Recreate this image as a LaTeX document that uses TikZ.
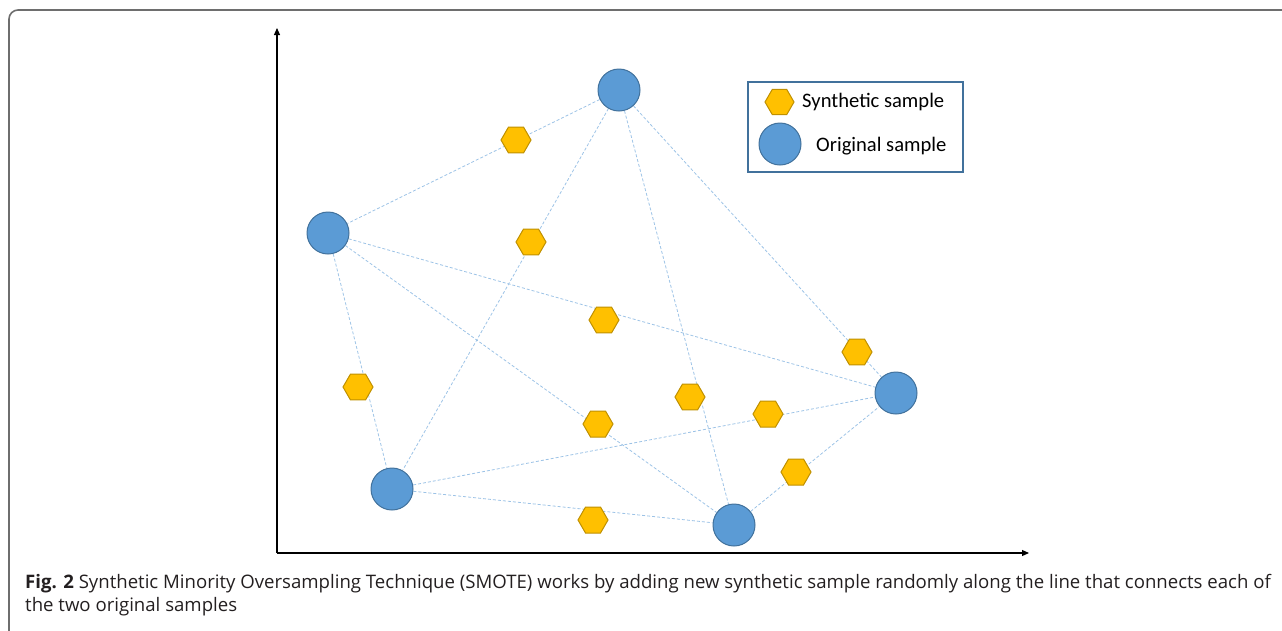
\documentclass[tikz,border=0pt]{standalone}
\usepackage{fontspec}
\setmainfont{Open Sans}
\newfontfamily\legendfont{Carlito}
\usetikzlibrary{shapes.geometric,arrows.meta,backgrounds}
\definecolor{origfill}{HTML}{5B9BD5}
\definecolor{origline}{HTML}{41719C}
\definecolor{synfill}{HTML}{FFC000}
\definecolor{synline}{HTML}{BF9000}
\definecolor{linkblue}{HTML}{9DC3E6}
\definecolor{framegray}{HTML}{6E6E6E}
\definecolor{captext}{HTML}{231F20}
\tikzset{
  original/.style={circle,fill=origfill,draw=origline,line width=1pt,minimum size=42pt,inner sep=0pt},
  synthetic/.style={regular polygon,regular polygon sides=6,fill=synfill,draw=synline,line width=1pt,minimum size=30pt,inner sep=0pt},
  link/.style={draw=linkblue,line width=0.8pt,dash pattern=on 3pt off 2pt},
  axis/.style={draw=black,line width=1.1pt,-{Triangle[length=7pt,width=6pt]}},
  legendtext/.style={font=\legendfont\fontsize{20.6}{24}\selectfont,anchor=base west,inner sep=0pt,text=black},
  captionline/.style={anchor=base west,inner sep=0pt,text=captext,font=\fontsize{18.6}{23}\selectfont},
}
\begin{document}
\begin{tikzpicture}[x=1pt,y=-1pt]
\useasboundingbox (0,0) rectangle (1282,630);
% outer frame, open at the right and bottom
\draw[framegray,line width=1.6pt,rounded corners=9pt] (9,640) -- (9,10) -- (1300,10);

% axes
\coordinate (O) at (277,553);
\coordinate (ytop) at (277,28);
\coordinate (xend) at (1029,553);
\draw[axis] (O) -- (ytop);
\draw[axis] (O) -- (xend);

% original samples
\node[original] (p1) at (619,90) {};
\node[original] (p2) at (328,233) {};
\node[original] (p3) at (896,393) {};
\node[original] (p4) at (392,489) {};
\node[original] (p5) at (734,525) {};

% synthetic samples
\node[synthetic] (s1) at (516,140) {};
\node[synthetic] (s2) at (531,242) {};
\node[synthetic] (s3) at (604,320) {};
\node[synthetic] (s4) at (358,387) {};
\node[synthetic] (s5) at (598,424) {};
\node[synthetic] (s6) at (690,397) {};
\node[synthetic] (s7) at (768,414) {};
\node[synthetic] (s8) at (593,520) {};
\node[synthetic] (s9) at (796,472) {};
\node[synthetic] (s10) at (857,352) {};

% links between pairs of original samples
\begin{pgfonlayer}{background}
\draw[link] (p1) -- (p2);
\draw[link] (p1) -- (p4);
\draw[link] (p1) -- (p5);
\draw[link] (p1) -- (p3);
\draw[link] (p2) -- (p3);
\draw[link] (p2) -- (p4);
\draw[link] (p2) -- (p5);
\draw[link] (p4) -- (p3);
\draw[link] (p4) -- (p5);
\draw[link] (p5) -- (p3);
\end{pgfonlayer}

% legend
\node[draw=origline,line width=1.2pt,minimum width=215pt,minimum height=90pt,inner sep=0pt] (legend) at (855.5,127) {};
\node[synthetic,minimum size=29pt] (ls) at (779.5,102) {};
\node[original] (lo) at (780,144) {};
\node[legendtext] (lst) at (802,107) {Synthetic sample};
\node[legendtext] (lot) at (816,151) {Original sample};

% caption
\node[captionline] (cap1) at (25,588)
  {\textbf{Fig. 2} Synthetic Minority Oversampling Technique (SMOTE) works by adding new synthetic sample randomly along the line that connects each of};
\node[captionline] (cap2) at (25,611)
  {the two original samples};
\end{tikzpicture}
\end{document}
